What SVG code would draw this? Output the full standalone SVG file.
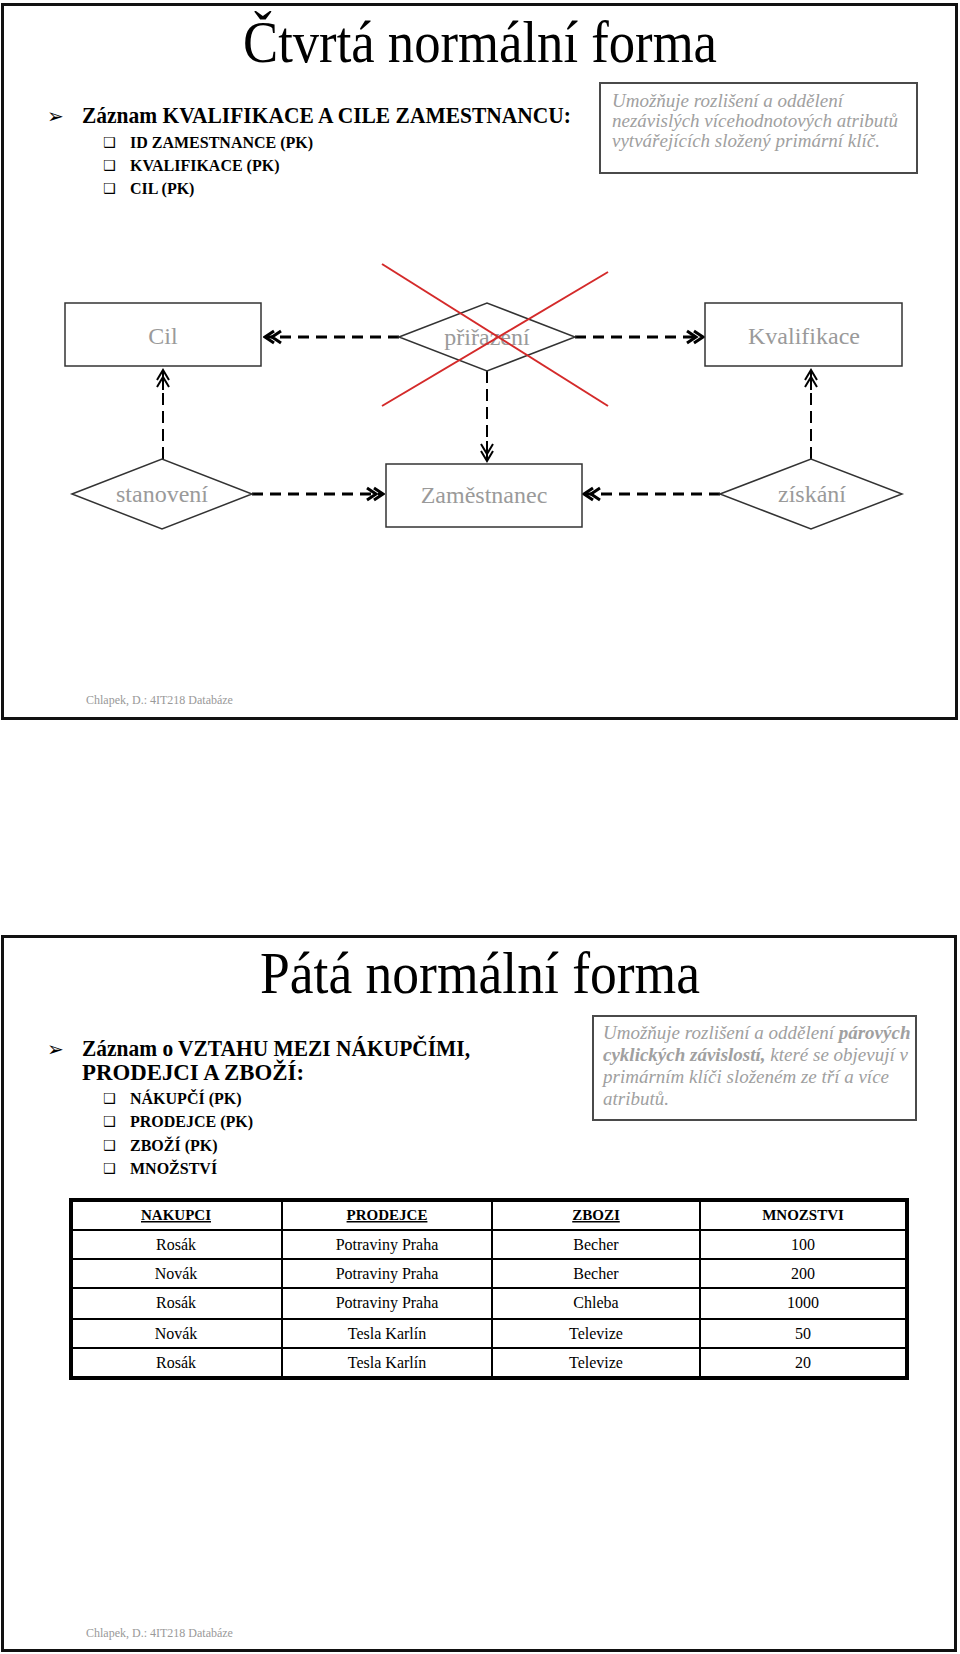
<svg xmlns="http://www.w3.org/2000/svg" width="960" height="1654" viewBox="0 0 960 1654">
<style>
.frame{fill:#fff;stroke:#111;stroke-width:3}
.title{font-family:"Liberation Serif",serif;font-size:60px;fill:#000;text-anchor:middle}
.head{font-family:"Liberation Serif",serif;font-size:23px;font-weight:bold;fill:#000}
.sub{font-family:"Liberation Serif",serif;font-size:16px;font-weight:bold;fill:#000}
.sym{font-family:"DejaVu Sans",sans-serif;fill:#000}
.note{fill:#fff;stroke:#4a4a4a;stroke-width:2}
.notet{font-family:"Liberation Serif",serif;font-size:19px;font-style:italic;fill:#a0a0a0}
.node{fill:#fff;stroke:#333;stroke-width:1.5}
.nt{font-family:"Liberation Serif",serif;font-size:24px;fill:#9a9a9a;text-anchor:middle}
.foot{font-family:"Liberation Serif",serif;font-size:12px;fill:#999}
.ch{fill:none;stroke:#000;stroke-width:3;stroke-dasharray:11 7}
.cv{fill:none;stroke:#000;stroke-width:2;stroke-dasharray:12 6}
.red{stroke:#d42a2a;stroke-width:2}
.tb{font-family:"Liberation Serif",serif;font-size:16px;fill:#000;text-anchor:middle}
.th{font-family:"Liberation Serif",serif;font-size:15px;font-weight:bold;fill:#000;text-anchor:middle}
.tl{stroke:#000;stroke-width:2}
</style>
<defs>
<marker id="mh" viewBox="-20 -9 22 18" refX="0" refY="0" markerWidth="22" markerHeight="18" markerUnits="userSpaceOnUse" orient="auto">
<path d="M-9,-6 L0,0 L-9,6 M-16,-6 L-7,0 L-16,6" fill="none" stroke="#000" stroke-width="3"/>
</marker>
<marker id="mv" viewBox="-20 -9 22 18" refX="0" refY="0" markerWidth="22" markerHeight="18" markerUnits="userSpaceOnUse" orient="auto">
<path d="M-10,-6 L0,0 L-10,6 M-17,-6 L-7,0 L-17,6 M-20,0 L0,0" fill="none" stroke="#000" stroke-width="2"/>
</marker>
</defs>

<!-- Slide 1 -->
<rect class="frame" x="2.5" y="4.5" width="954" height="714"/>
<text class="title" x="480" y="62" textLength="474" lengthAdjust="spacingAndGlyphs">Čtvrtá normální forma</text>
<text class="sym" x="47" y="123" font-size="20">➢</text>
<text class="head" x="82" y="123" textLength="489" lengthAdjust="spacingAndGlyphs">Záznam KVALIFIKACE A CILE ZAMESTNANCU:</text>
<text class="sym" x="103" y="147" font-size="14">❑</text>
<text class="sub" x="130" y="148">ID ZAMESTNANCE (PK)</text>
<text class="sym" x="103" y="170" font-size="14">❑</text>
<text class="sub" x="130" y="171">KVALIFIKACE (PK)</text>
<text class="sym" x="103" y="193" font-size="14">❑</text>
<text class="sub" x="130" y="194">CIL (PK)</text>

<g id="note1">
<rect class="note" x="600" y="83" width="317" height="90"/>
<text class="notet" x="612" y="107">Umožňuje rozlišení a oddělení</text>
<text class="notet" x="612" y="127">nezávislých vícehodnotových atributů</text>
<text class="notet" x="612" y="147">vytvářejících složený primární klíč.</text>
</g>

<g id="connectors">
<line class="ch" x1="399" y1="337" x2="265" y2="337" marker-end="url(#mh)"/>
<line class="ch" x1="575" y1="337" x2="703" y2="337" marker-end="url(#mh)"/>
<line class="cv" x1="487" y1="371" x2="487" y2="461" marker-end="url(#mv)"/>
<line class="cv" x1="163" y1="459" x2="163" y2="370" marker-end="url(#mv)"/>
<line class="ch" x1="252" y1="494" x2="383" y2="494" marker-end="url(#mh)"/>
<line class="ch" x1="720" y1="494" x2="584" y2="494" marker-end="url(#mh)"/>
<line class="cv" x1="811" y1="459" x2="811" y2="370" marker-end="url(#mv)"/>
</g>

<g id="cil">
<rect class="node" x="65" y="303" width="196" height="63"/>
<text class="nt" x="163" y="344">Cil</text>
</g>
<g id="prirazeni">
<polygon class="node" points="399,337 487,303 575,337 487,371"/>
<text class="nt" x="487" y="345">přiřazení</text>
</g>
<g id="kvalifikace">
<rect class="node" x="705" y="303" width="197" height="63"/>
<text class="nt" x="804" y="344">Kvalifikace</text>
</g>
<g id="stanoveni">
<polygon class="node" points="72,494 162,459 252,494 162,529"/>
<text class="nt" x="162" y="502">stanovení</text>
</g>
<g id="zamestnanec">
<rect class="node" x="386" y="464" width="196" height="63"/>
<text class="nt" x="484" y="503">Zaměstnanec</text>
</g>
<g id="ziskani">
<polygon class="node" points="720,494 811,459 902,494 811,529"/>
<text class="nt" x="812" y="502">získání</text>
</g>
<g id="cross">
<line class="red" x1="382" y1="264" x2="608" y2="406"/>
<line class="red" x1="382" y1="406" x2="608" y2="272"/>
</g>

<text class="foot" x="86" y="704">Chlapek, D.: 4IT218 Databáze</text>

<!-- Slide 2 -->
<rect class="frame" x="2.5" y="936.5" width="953" height="714"/>
<text class="title" x="480" y="993" textLength="440" lengthAdjust="spacingAndGlyphs">Pátá normální forma</text>
<text class="sym" x="47" y="1056" font-size="20">➢</text>
<text class="head" x="82" y="1056" textLength="388" lengthAdjust="spacingAndGlyphs">Záznam o VZTAHU MEZI NÁKUPČÍMI,</text>
<text class="head" x="82" y="1080" textLength="222" lengthAdjust="spacingAndGlyphs">PRODEJCI A ZBOŽÍ:</text>
<text class="sym" x="103" y="1103" font-size="14">❑</text>
<text class="sub" x="130" y="1104">NÁKUPČÍ (PK)</text>
<text class="sym" x="103" y="1126" font-size="14">❑</text>
<text class="sub" x="130" y="1127">PRODEJCE (PK)</text>
<text class="sym" x="103" y="1150" font-size="14">❑</text>
<text class="sub" x="130" y="1151">ZBOŽÍ (PK)</text>
<text class="sym" x="103" y="1173" font-size="14">❑</text>
<text class="sub" x="130" y="1174">MNOŽSTVÍ</text>

<g id="note2">
<rect class="note" x="593" y="1016" width="323" height="104"/>
<text class="notet" x="603" y="1039" font-size="17.5">Umožňuje rozlišení a oddělení <tspan font-weight="bold">párových</tspan></text>
<text class="notet" x="603" y="1061" font-size="17.5"><tspan font-weight="bold">cyklických závislostí,</tspan> které se objevují v</text>
<text class="notet" x="603" y="1083" font-size="17.5">primárním klíči složeném ze tří a více</text>
<text class="notet" x="603" y="1105" font-size="17.5">atributů.</text>
</g>

<g id="table">
<rect x="71" y="1200" width="836" height="178" fill="#fff" stroke="#000" stroke-width="4"/>
<line class="tl" x1="282" y1="1200" x2="282" y2="1378"/>
<line class="tl" x1="492" y1="1200" x2="492" y2="1378"/>
<line class="tl" x1="700" y1="1200" x2="700" y2="1378"/>
<line class="tl" x1="71" y1="1230" x2="907" y2="1230"/>
<line class="tl" x1="71" y1="1259" x2="907" y2="1259"/>
<line class="tl" x1="71" y1="1288" x2="907" y2="1288"/>
<line class="tl" x1="71" y1="1319" x2="907" y2="1319"/>
<line class="tl" x1="71" y1="1348" x2="907" y2="1348"/>
<text class="th" x="176" y="1220" text-decoration="underline">NAKUPCI</text>
<text class="th" x="387" y="1220" text-decoration="underline">PRODEJCE</text>
<text class="th" x="596" y="1220" text-decoration="underline">ZBOZI</text>
<text class="th" x="803" y="1220">MNOZSTVI</text>
<text class="tb" x="176" y="1250">Rosák</text>
<text class="tb" x="387" y="1250">Potraviny Praha</text>
<text class="tb" x="596" y="1250">Becher</text>
<text class="tb" x="803" y="1250">100</text>
<text class="tb" x="176" y="1279">Novák</text>
<text class="tb" x="387" y="1279">Potraviny Praha</text>
<text class="tb" x="596" y="1279">Becher</text>
<text class="tb" x="803" y="1279">200</text>
<text class="tb" x="176" y="1308">Rosák</text>
<text class="tb" x="387" y="1308">Potraviny Praha</text>
<text class="tb" x="596" y="1308">Chleba</text>
<text class="tb" x="803" y="1308">1000</text>
<text class="tb" x="176" y="1339">Novák</text>
<text class="tb" x="387" y="1339">Tesla Karlín</text>
<text class="tb" x="596" y="1339">Televize</text>
<text class="tb" x="803" y="1339">50</text>
<text class="tb" x="176" y="1368">Rosák</text>
<text class="tb" x="387" y="1368">Tesla Karlín</text>
<text class="tb" x="596" y="1368">Televize</text>
<text class="tb" x="803" y="1368">20</text>
</g>

<text class="foot" x="86" y="1637">Chlapek, D.: 4IT218 Databáze</text>
</svg>
